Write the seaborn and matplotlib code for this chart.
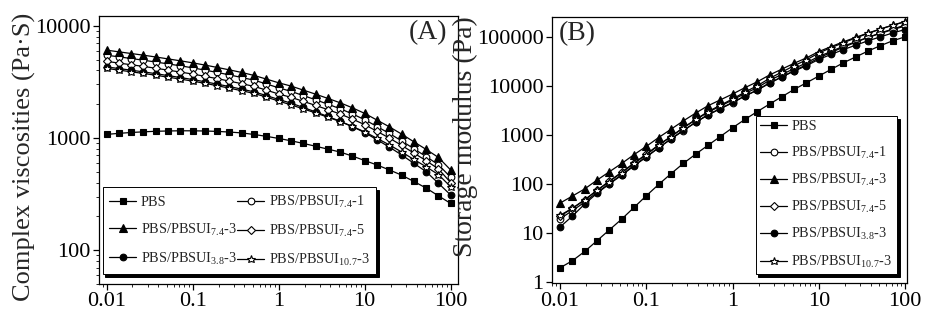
import numpy as np
import pandas as pd
import matplotlib
matplotlib.use("Agg")
import matplotlib.pyplot as plt
import seaborn as sns
from matplotlib.ticker import LogLocator, NullFormatter

# ---------------- data ----------------
freq = [0.01, 0.01389, 0.01931, 0.02683, 0.03728, 0.05179, 0.07197,
        0.1, 0.1389, 0.1931, 0.2683, 0.3728, 0.5179, 0.7197,
        1, 1.389, 1.931, 2.683, 3.728, 5.179, 7.197,
        10, 13.89, 19.31, 26.83, 37.28, 51.79, 71.97, 100]

labels = ["PBS",
          r"PBS/PBSUI$_{\mathrm{7.4}}$-1",
          r"PBS/PBSUI$_{\mathrm{7.4}}$-3",
          r"PBS/PBSUI$_{\mathrm{7.4}}$-5",
          r"PBS/PBSUI$_{\mathrm{3.8}}$-3",
          r"PBS/PBSUI$_{\mathrm{10.7}}$-3"]

# (A) complex viscosity
eta_PBS = [1077, 1100, 1120, 1135, 1148, 1155, 1160, 1159, 1155, 1145, 1130, 1110, 1075, 1035,
           991, 945, 895, 845, 796, 750, 690, 630, 575, 520, 467, 410, 358, 305, 261]
eta_74_1 = [5470, 5290, 5110, 4935, 4755, 4575, 4400, 4220, 4030, 3840, 3650, 3460, 3275, 3035,
            2800, 2605, 2390, 2192, 2002, 1824, 1639, 1456, 1266, 1099, 943, 802, 683, 578, 446]
eta_74_3 = [6067, 5861, 5662, 5470, 5272, 5070, 4875, 4677, 4467, 4256, 4046, 3837, 3610, 3350,
            3105, 2904, 2673, 2460, 2254, 2061, 1858, 1656, 1445, 1259, 1084, 925, 791, 671, 518]
eta_74_5 = [4820, 4655, 4495, 4345, 4185, 4025, 3870, 3715, 3547, 3380, 3213, 3047, 2883, 2672,
            2466, 2306, 2122, 1953, 1790, 1636, 1475, 1315, 1147, 1000, 860, 734, 628, 530, 400]
eta_38_3 = [4300, 4160, 4020, 3885, 3745, 3600, 3460, 3320, 3170, 3020, 2873, 2724, 2578, 2390,
            2205, 2047, 1871, 1710, 1555, 1412, 1263, 1118, 965, 831, 707, 595, 501, 395, 310]
eta_107_3 = [4170, 4030, 3890, 3760, 3625, 3485, 3350, 3215, 3070, 2925, 2780, 2637, 2497, 2314,
             2135, 1975, 1818, 1673, 1533, 1402, 1267, 1134, 994, 869, 751, 644, 554, 472, 367]

# (B) storage modulus
G_PBS = [1.93, 2.69, 4.17, 6.92, 11.5, 19.1, 33.1, 57.5, 97.7, 162, 263, 407, 617, 933,
         1413, 2089, 3020, 4315, 6095, 8610, 11780, 16140, 22130, 30200, 39800, 52500,
         67600, 85100, 102300]
G_74_1 = [19.5, 28.4, 42.7, 67.6, 102, 155, 240, 363, 550, 832, 1230, 1820, 2570, 3470,
          4570, 6310, 8320, 11750, 15490, 20890, 27540, 38020, 48980, 63100, 79430, 100000,
          123000, 147900, 177800]
G_74_3 = [40.7, 56.6, 79.4, 120, 178, 263, 398, 589, 891, 1318, 1950, 2818, 3981, 5248,
          6918, 9333, 12300, 16980, 22390, 29510, 38020, 51290, 64570, 81280, 100000, 123000,
          147900, 177800, 208900]
G_74_5 = [21.9, 31.8, 46.8, 74.1, 115, 174, 269, 407, 631, 933, 1413, 2042, 2951, 3890,
          5248, 7080, 9333, 13180, 17380, 22910, 30200, 40740, 51290, 66070, 81280, 100000,
          120200, 144500, 169800]
G_38_3 = [13.2, 22.0, 38.9, 64.6, 100, 151, 234, 355, 550, 832, 1259, 1820, 2630, 3467,
          4677, 6310, 8318, 11480, 15490, 20420, 26300, 35480, 44670, 56230, 69180, 85110,
          102300, 123000, 144500]
G_107_3 = [22.9, 31.8, 47.9, 74.1, 112, 170, 263, 398, 617, 933, 1413, 2089, 3020, 4074,
           5495, 7586, 10230, 14450, 19500, 26300, 34670, 47860, 61660, 77620, 97720, 120200,
           147900, 177800, 208900]

x_ticks = [0.01, 0.1, 1, 10, 100]
x_ticklabels = ["0.01", "0.1", "1", "10", "100"]
yA_ticks = [100, 1000, 10000]
yA_ticklabels = ["100", "1000", "10000"]
yB_ticks = [1, 10, 100, 1000, 10000, 100000]
yB_ticklabels = ["1", "10", "100", "1000", "10000", "100000"]

# ---------------- style ----------------
sns.set_style("ticks")
plt.rcParams["font.family"] = ["Liberation Serif", "DejaVu Serif"]
plt.rcParams["mathtext.fontset"] = "custom"
plt.rcParams["mathtext.rm"] = "Liberation Serif"
plt.rcParams["mathtext.it"] = "Liberation Serif:italic"
plt.rcParams["axes.edgecolor"] = "black"
plt.rcParams["axes.linewidth"] = 0.9

marker_styles = [
    dict(marker="s", markerfacecolor="black", markersize=4.2),
    dict(marker="o", markerfacecolor="white", markersize=4.8),
    dict(marker="^", markerfacecolor="black", markersize=5.2),
    dict(marker="D", markerfacecolor="white", markersize=3.8),
    dict(marker="o", markerfacecolor="black", markersize=4.8),
    dict(marker="*", markerfacecolor="white", markersize=6.2),
]

fig = plt.figure(figsize=(9.31, 3.22), dpi=100)
axA = fig.add_axes([0.106, 0.118, 0.386, 0.832])
axB = fig.add_axes([0.5926, 0.1202, 0.3813, 0.826])

seriesA = [eta_PBS, eta_74_1, eta_74_3, eta_74_5, eta_38_3, eta_107_3]
seriesB = [G_PBS, G_74_1, G_74_3, G_74_5, G_38_3, G_107_3]


def draw(ax, series):
    for vals, lab, st in zip(series, labels, marker_styles):
        df = pd.DataFrame({"freq": freq, "val": vals})
        sns.lineplot(data=df, x="freq", y="val", ax=ax, color="black", linewidth=0.9,
                     markeredgecolor="black", markeredgewidth=0.8, label=lab, **st)
    ax.set_xscale("log")
    ax.set_yscale("log")
    ax.set_xlabel("")
    ax.set_xticks(x_ticks)
    ax.set_xticklabels(x_ticklabels)
    ax.xaxis.set_minor_locator(LogLocator(base=10, subs=np.arange(2, 10)))
    ax.xaxis.set_minor_formatter(NullFormatter())
    ax.yaxis.set_minor_locator(LogLocator(base=10, subs=np.arange(2, 10)))
    ax.yaxis.set_minor_formatter(NullFormatter())
    ax.tick_params(which="major", direction="out", length=4, width=0.9, labelsize=16,
                   colors="black", bottom=True, left=True, top=False, right=False, pad=2)
    ax.tick_params(which="minor", direction="out", length=2.2, width=0.7,
                   bottom=True, left=True, top=False, right=False)
    for s in ax.spines.values():
        s.set_visible(True)
        s.set_color("black")


draw(axA, seriesA)
axA.set_xlim(0.0081, 121.6)
axA.set_ylim(50, 12200)
axA.set_yticks(yA_ticks)
axA.set_yticklabels(yA_ticklabels)
axA.yaxis.set_minor_formatter(NullFormatter())
axA.set_ylabel("Complex viscosities (Pa·S)", fontsize=19)
axA.yaxis.set_label_coords(-0.175, 0.475)
axA.text(0.969, 0.937, "(A)", transform=axA.transAxes, ha="right", va="center", fontsize=20)

draw(axB, seriesB)
axB.set_xlim(0.008, 104.6)
axB.set_ylim(0.93, 257000)
axB.set_yticks(yB_ticks)
axB.set_yticklabels(yB_ticklabels)
axB.yaxis.set_minor_formatter(NullFormatter())
axB.set_ylabel("Storage modulus (Pa)", fontsize=20)
axB.yaxis.set_label_coords(-0.207, 0.55)
axB.text(0.02, 0.937, "(B)", transform=axB.transAxes, ha="left", va="center", fontsize=20)

# legends
hA, lA = axA.get_legend_handles_labels()
orderA = [0, 2, 4, 1, 3, 5]
legA = axA.legend([hA[i] for i in orderA], [lA[i] for i in orderA], ncol=2,
                  loc="lower left", bbox_to_anchor=(0.011, 0.037), borderaxespad=0,
                  fontsize=10.3, frameon=True, fancybox=False, edgecolor="black",
                  framealpha=1, handlelength=1.9, handletextpad=0.3, columnspacing=0.05,
                  labelspacing=0.9, borderpad=0.45,
                  shadow={"color": "black", "alpha": 1})
legA.get_frame().set_linewidth(0.7)

hB, lB = axB.get_legend_handles_labels()
legB = axB.legend(hB, lB, ncol=1, loc="lower right", bbox_to_anchor=(0.972, 0.035),
                  borderaxespad=0, fontsize=10.3, frameon=True, fancybox=False,
                  edgecolor="black", framealpha=1, handlelength=1.9, handletextpad=0.3,
                  labelspacing=0.78, borderpad=0.3,
                  shadow={"color": "black", "alpha": 1})
legB.get_frame().set_linewidth(0.7)

fig.savefig("out.png", dpi=100, facecolor="white")
